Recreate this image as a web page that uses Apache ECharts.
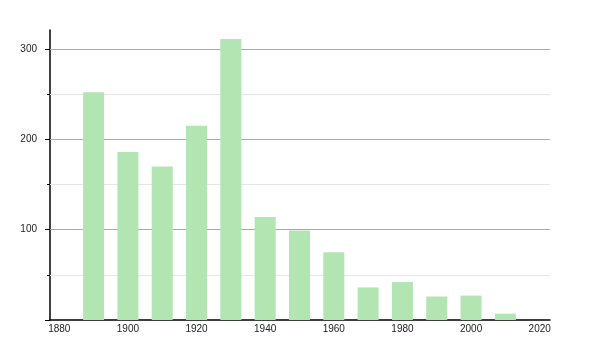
<!DOCTYPE html>
<html><head><meta charset="utf-8">
<script src="https://cdn.jsdelivr.net/npm/echarts@6/dist/echarts.min.js"></script>
<style>html,body{margin:0;padding:0;background:#fff}#c{width:600px;height:350px}</style>
</head><body><div id="c"></div>
<script>
const years = [1890,1900,1910,1920,1930,1940,1950,1960,1970,1980,1990,2000,2010];
const population = [252,186,170,215,311,114,99,75,36,42,26,27,7];
const xTickLabels = [1880,1900,1920,1940,1960,1980,2000,2020];
const yMajorTicks = [100,200,300];
const yMinorTicks = [50,150,250];

const chart = echarts.init(document.getElementById('c'));
const font = {fontFamily:'Liberation Sans, Arial, sans-serif', fontSize:10, color:'#222'};
chart.setOption({
  animation:false,
  grid:{left:50,right:50,top:30,bottom:30},
  xAxis:{type:'value',min:1877.3,max:2023,
    axisLine:{show:true,onZero:false,lineStyle:{color:'#000',width:1.5}},
    axisTick:{show:false},splitLine:{show:false},
    axisLabel:Object.assign({customValues:xTickLabels,margin:4,formatter:v=>String(v)},font)},
  yAxis:[{type:'value',min:0,max:321,
    axisLine:{show:true,lineStyle:{color:'#000',width:1.5}},
    axisTick:{show:true,customValues:[0].concat(yMajorTicks),length:5,lineStyle:{color:'#000'}},
    axisLabel:Object.assign({customValues:yMajorTicks,margin:13},font),
    splitLine:{show:false}},
   {type:'value',min:0,max:321,position:'left',
    axisLine:{show:false},axisLabel:{show:false},splitLine:{show:false},
    axisTick:{show:true,customValues:yMinorTicks,length:3,lineStyle:{color:'#000'}}}],
  series:[
    {type:'line',data:[],silent:true,z:1,
     markLine:{symbol:'none',silent:true,z:1,label:{show:false},animation:false,
       data:yMajorTicks.map(v=>({yAxis:v,lineStyle:{color:'#aaaaaa',width:1,type:'solid'}}))
         .concat(yMinorTicks.map(v=>({yAxis:v,lineStyle:{color:'#e6e6e6',width:1,type:'solid'}})))}},
    {type:'bar',z:3,barWidth:21,itemStyle:{color:'#b2e5b2'},
     data:years.map((y,i)=>[y,population[i]])}
  ]
});
</script></body></html>
